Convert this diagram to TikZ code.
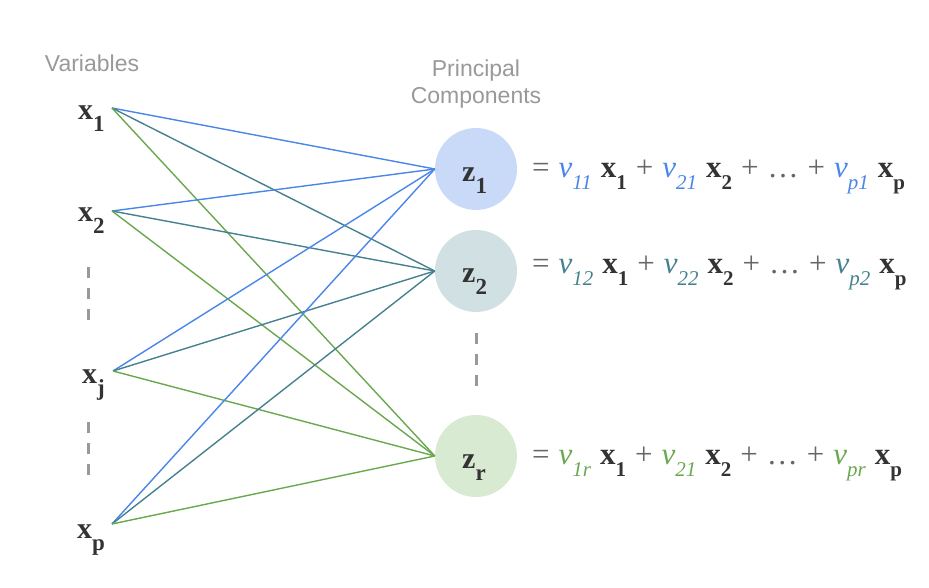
\documentclass[tikz,border=0pt]{standalone}
\usepackage{fontspec}
\setmainfont{Liberation Serif}
\newfontfamily\labsans{Liberation Sans}
\definecolor{cblue}{HTML}{4A86E8}
\definecolor{cteal}{HTML}{45818E}
\definecolor{cgreen}{HTML}{6AA84F}
\definecolor{fblue}{HTML}{C9DAF8}
\definecolor{fteal}{HTML}{D0E0E3}
\definecolor{fgreen}{HTML}{D9EAD3}
\definecolor{ink}{HTML}{333333}
\definecolor{gtext}{HTML}{999999}
\definecolor{opgray}{HTML}{666666}
\newcommand\lsub[1]{\raisebox{-12pt}{\fontsize{23}{23}\selectfont #1}}
\newcommand\esub[1]{\raisebox{-12pt}{\fontsize{21}{21}\selectfont\itshape #1}}
\newcommand\xsub[1]{\raisebox{-12pt}{\fontsize{21}{21}\selectfont\bfseries #1}}
\newcommand\vv[2]{{\color{#1}\textit{v}\esub{#2}}}
\newcommand\xx[1]{{\color{ink}\textbf{x}\xsub{#1}}}
\newcommand\op[1]{{\color{opgray}#1}}
\newcommand\eqspace{\spaceskip=9pt\relax}
\begin{document}
\begin{tikzpicture}[x=1pt,y=-1pt,
  head/.style={font=\labsans\fontsize{23}{27}\selectfont, text=gtext, align=center, inner sep=0},
  xlab/.style={font=\fontsize{30}{30}\selectfont\bfseries, text=ink, inner sep=0, anchor=base west},
  pc/.style={circle, minimum size=82pt, inner sep=0, draw=none},
  eq/.style={font=\fontsize{31}{31}\selectfont\eqspace, inner sep=0, anchor=base west},
  wire/.style={line width=1.4pt},
  vdash/.style={draw=gtext, line width=3pt, dash pattern=on 11pt off 10pt}]
\useasboundingbox (0,0) rectangle (929,588);

\node[head] (hvar) at (92,63) {Variables};
\node[head] (hpc) at (476,84) {Principal\\Components};

% variable labels
\node[xlab] (x1) at (78,120) {x\lsub{1}};
\node[xlab] (x2) at (78,222) {x\lsub{2}};
\node[xlab] (xj) at (82,383) {x\lsub{j}};
\node[xlab] (xp) at (77,538) {x\lsub{p}};

\coordinate (a1) at (112,108);
\coordinate (a2) at (112,211);
\coordinate (aj) at (113,371);
\coordinate (ap) at (112,524);

% components
\node[pc, fill=fblue] (z1) at (476,169) {};
\node[pc, fill=fteal] (z2) at (476,271) {};
\node[pc, fill=fgreen] (zr) at (476,456) {};
\node[xlab] (z1t) at (462,182) {z\lsub{1}};
\node[xlab] (z2t) at (462,282) {z\lsub{2}};
\node[xlab] (zrt) at (462,468) {z\lsub{r}};

% dashes
\coordinate (d1a) at (88,267);
\coordinate (d1b) at (88,321);
\coordinate (d2a) at (88,422);
\coordinate (d2b) at (88,476);
\coordinate (d3a) at (476,333);
\coordinate (d3b) at (476,387);
\draw[vdash] (d1a) -- (d1b);
\draw[vdash] (d2a) -- (d2b);
\draw[vdash] (d3a) -- (d3b);

% wires
\foreach \a in {a1,a2,aj,ap}{
  \draw[wire, cblue] (\a) -- (z1.west);
  \draw[wire, cteal] (\a) -- (z2.west);
  \draw[wire, cgreen] (\a) -- (zr.west);
}

% equations
\node[eq] (e1) at (532,178) {\op{=} \vv{cblue}{11} \xx{1} \op{+} \vv{cblue}{21} \xx{2} \op{+} \op{\dots} \op{+} \vv{cblue}{p1} \xx{p}};
\node[eq] (e2) at (532,273) {\op{=} \vv{cteal}{12} \xx{1} \op{+} \vv{cteal}{22} \xx{2} \op{+} \op{\dots} \op{+} \vv{cteal}{p2} \xx{p}};
\node[eq] (er) at (532,464) {\op{=} \vv{cgreen}{1r} \xx{1} \op{+} \vv{cgreen}{21} \xx{2} \op{+} \op{\dots} \op{+} \vv{cgreen}{pr} \xx{p}};
\end{tikzpicture}
\end{document}
